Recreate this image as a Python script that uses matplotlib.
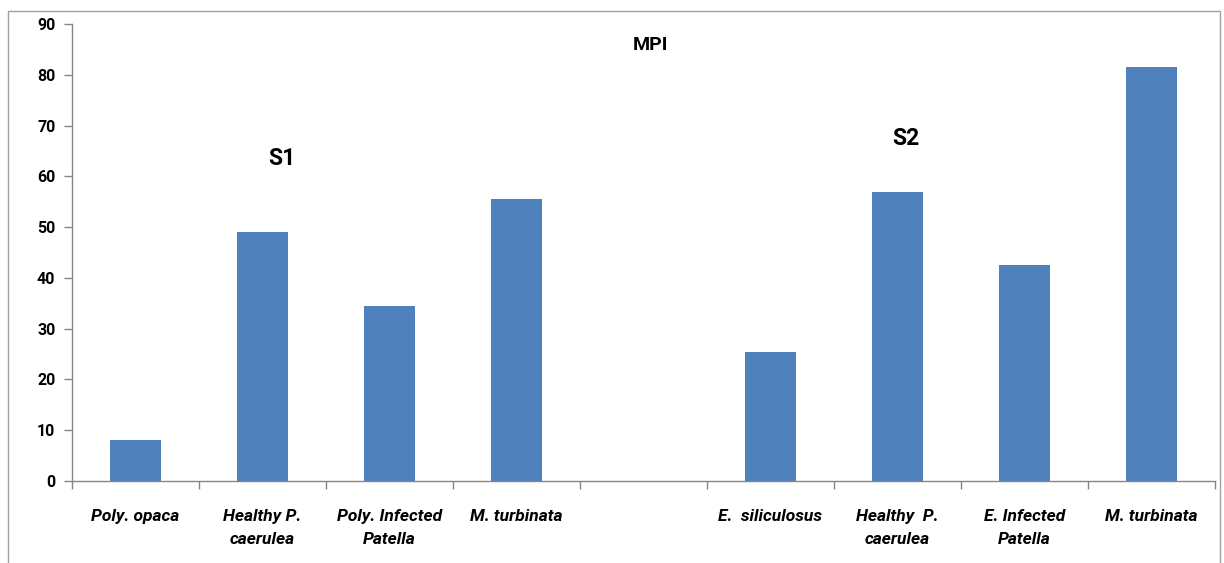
import numpy as np
import matplotlib.pyplot as plt
from matplotlib.patches import Rectangle

# data
labels = ["Poly. opaca", "Healthy P.\ncaerulea", "Poly. Infected\nPatella", "M. turbinata", "",
          "E.  siliculosus", "Healthy  P.\ncaerulea", "E. Infected\nPatella", "M. turbinata"]
mpi = [8.1, 49.1, 34.5, 55.6, np.nan, 25.4, 56.9, 42.6, 81.6]

bar_color = "#4F81BD"
axis_color = "#868686"
plt.rcParams['font.family'] = ['Roboto', 'DejaVu Sans']

fig = plt.figure(figsize=(12.24, 5.63), dpi=100)
ax = fig.add_axes([0.0588, 0.1456, 0.9338, 0.8118])

x = np.arange(len(labels))
ax.bar(x, mpi, width=0.4, color=bar_color, zorder=2)

ax.set_xlim(-0.5, len(labels) - 0.5)
ax.set_ylim(0, 90)
ax.set_yticks(np.arange(0, 91, 10))
ax.set_yticklabels([str(v) for v in range(0, 91, 10)], fontsize=11.5, fontweight='bold')

# category boundary ticks, labels centred on categories
ax.set_xticks(np.arange(-0.5, len(labels), 1.0))
ax.set_xticklabels([])
ax.set_xticks(x, minor=True)
ax.set_xticklabels(labels, minor=True, fontsize=12.5, fontweight='bold', style='italic',
                   linespacing=1.65, va='top')
ax.tick_params(axis='x', which='minor', length=0, pad=20)
ax.tick_params(axis='x', which='major', length=6, color=axis_color, width=1)
ax.tick_params(axis='y', length=6, color=axis_color, width=1, pad=6)

for s in ['top', 'right']:
    ax.spines[s].set_visible(False)
for s in ['left', 'bottom']:
    ax.spines[s].set_color(axis_color)
    ax.spines[s].set_linewidth(1)

ax.text(0.5065, 0.955, "MPI", transform=ax.transAxes, ha='center', va='center',
        fontsize=14, fontweight='bold')
ax.text(1.15, 63.5, "S1", ha='center', va='center', fontsize=16.5, fontweight='bold')
ax.text(6.07, 67.5, "S2", ha='center', va='center', fontsize=16.5, fontweight='bold')

# outer chart frame
fig.patches.append(Rectangle((8 / 1224, -0.05), 1212 / 1224, 1.05 - 11 / 563,
                             transform=fig.transFigure, fill=False,
                             edgecolor="#A0A0A0", linewidth=1))

fig.savefig("out.png", dpi=100)
